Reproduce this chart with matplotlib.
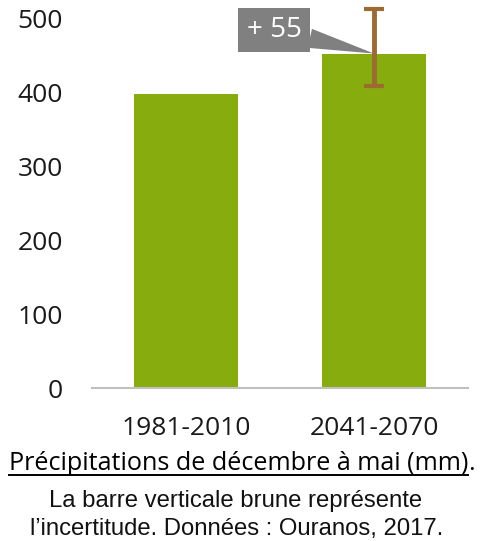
import matplotlib.pyplot as plt
from matplotlib.lines import Line2D

# données
periodes = ["1981-2010", "2041-2070"]
precip = [397, 452]
incert_bas = [None, 408]
incert_haut = [None, 512]
ecart_label = "+ 55"

plt.rcParams['font.family'] = ['Open Sans', 'DejaVu Sans']

fig = plt.figure(figsize=(4.82, 5.41), dpi=100)
ax = fig.add_axes([92 / 482, 1 - 388 / 541, 376 / 482, 370 / 541])

x = range(len(periodes))
ax.bar(x, precip, width=0.55, color="#87ac0d")

# barre d'incertitude (brune)
i = 1
ax.errorbar([i], [precip[i]],
            yerr=[[precip[i] - incert_bas[i]], [incert_haut[i] - precip[i]]],
            fmt="none", ecolor="#9c6a33", elinewidth=3.5, capsize=7,
            capthick=3, clip_on=False, zorder=4)

# étiquette de l'écart
ax.annotate(ecart_label, xy=(i, precip[i]), xytext=(-72, 17),
            textcoords="offset points", ha="center", va="center",
            color="white", fontsize=20,
            bbox=dict(boxstyle="square,pad=0.3", fc="#808080", ec="none"),
            arrowprops=dict(arrowstyle="wedge,tail_width=0.7,shrink_factor=0.5",
                            fc="#808080", ec="none", shrinkA=0, shrinkB=0),
            zorder=3)

ax.set_xlim(-0.5, 1.5)
ax.set_ylim(0, 500)
ax.set_yticks([0, 100, 200, 300, 400, 500])
ax.set_xticks(list(x))
ax.set_xticklabels(periodes)
ax.tick_params(length=0, labelsize=19, colors="#1a1a1a")
ax.tick_params(axis="y", pad=21)
ax.tick_params(axis="x", pad=20)
for s in ["top", "right", "left"]:
    ax.spines[s].set_visible(False)
ax.spines["bottom"].set_color("#c0c0c0")
ax.spines["bottom"].set_linewidth(1.5)

# légende sous le graphique
titre = fig.text(468 / 482, 1 - 470 / 541, "Précipitations de décembre à mai (mm)",
                 ha="right", va="baseline", fontsize=18.1, color="black")
fig.text(468 / 482, 1 - 470 / 541, ".", ha="left", va="baseline", fontsize=18.1)
cap = dict(ha="center", va="baseline", fontsize=17.2, color="#111111",
           family=["Liberation Sans", "DejaVu Sans"])
fig.text(236 / 482, 1 - 507 / 541, "La barre verticale brune représente", **cap)
fig.text(237 / 482, 1 - 535 / 541, "l’incertitude. Données : Ouranos, 2017.", **cap)

# soulignement du titre
fig.canvas.draw()
bb = titre.get_window_extent().transformed(fig.transFigure.inverted())
y_sl = 1 - 475 / 541
fig.add_artist(Line2D([bb.x0, bb.x1], [y_sl, y_sl],
                      transform=fig.transFigure, color="black", lw=1.4))

fig.savefig("out.png", dpi=100)
